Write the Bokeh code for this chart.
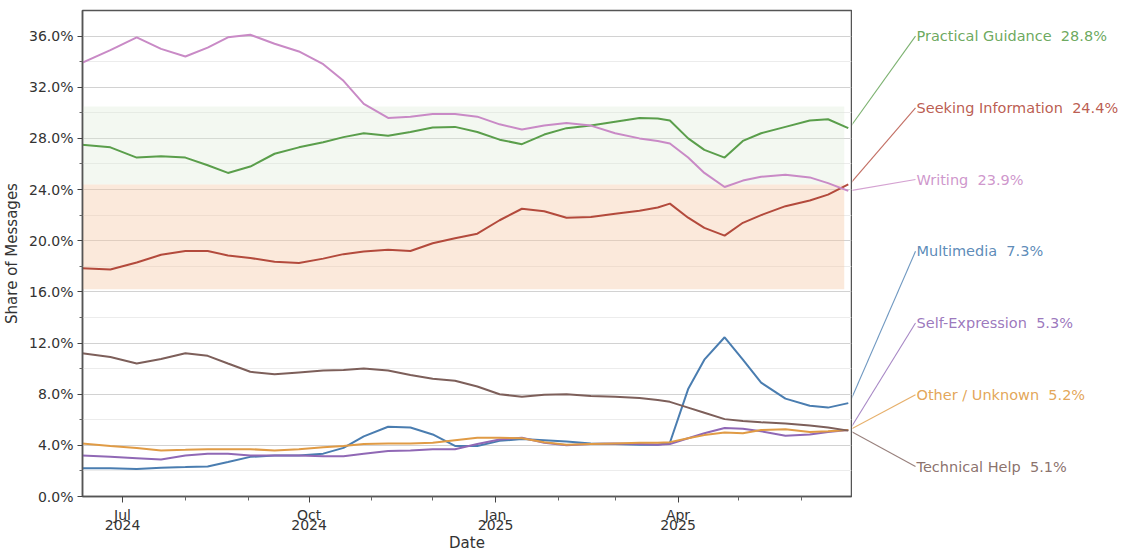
import pandas as pd
from bokeh.plotting import figure
from bokeh.layouts import row
from bokeh.models import (FixedTicker, Range1d, CustomJSTickFormatter, ColumnDataSource,
                          DatetimeAxis)
from bokeh.embed import file_html
from bokeh.resources import INLINE
from bokeh.core.properties import value

# ---------------- data ----------------
dates = ["2024-06-11", "2024-06-25", "2024-07-08", "2024-07-20", "2024-08-01", "2024-08-12",
         "2024-08-22", "2024-09-02", "2024-09-14", "2024-09-26", "2024-10-08", "2024-10-18",
         "2024-10-28", "2024-11-09", "2024-11-20", "2024-12-01", "2024-12-12", "2024-12-23",
         "2025-01-03", "2025-01-14", "2025-01-25", "2025-02-05", "2025-02-17", "2025-03-01",
         "2025-03-13", "2025-03-22", "2025-03-28", "2025-04-06", "2025-04-14", "2025-04-24",
         "2025-05-03", "2025-05-12", "2025-05-24", "2025-06-05", "2025-06-14", "2025-06-24"]

practical_guidance = [27.5, 27.3, 26.5, 26.6, 26.5, 25.9, 25.3, 25.8, 26.8, 27.3, 27.7, 28.1,
                      28.4, 28.2, 28.5, 28.85, 28.9, 28.5, 27.9, 27.55, 28.3, 28.8, 29.0, 29.3,
                      29.6, 29.55, 29.4, 28.0, 27.1, 26.5, 27.8, 28.4, 28.9, 29.4, 29.5, 28.8]
seeking_information = [17.85, 17.75, 18.3, 18.9, 19.2, 19.2, 18.85, 18.65, 18.35, 18.25, 18.6, 18.95,
                       19.15, 19.3, 19.2, 19.8, 20.2, 20.55, 21.6, 22.5, 22.3, 21.8, 21.85, 22.1,
                       22.35, 22.6, 22.9, 21.8, 21.0, 20.4, 21.4, 22.0, 22.7, 23.15, 23.6, 24.4]
writing = [33.9, 34.9, 35.9, 35.0, 34.4, 35.1, 35.9, 36.1, 35.4, 34.8, 33.8, 32.5,
           30.7, 29.6, 29.7, 29.9, 29.9, 29.7, 29.1, 28.7, 29.0, 29.2, 29.0, 28.4,
           28.0, 27.8, 27.6, 26.5, 25.3, 24.2, 24.7, 25.0, 25.15, 24.95, 24.5, 23.9]
multimedia = [2.2, 2.2, 2.15, 2.25, 2.3, 2.35, 2.7, 3.1, 3.2, 3.2, 3.35, 3.8,
              4.7, 5.45, 5.4, 4.85, 3.95, 3.95, 4.35, 4.5, 4.4, 4.3, 4.15, 4.1,
              4.05, 4.05, 4.2, 8.4, 10.7, 12.45, 10.7, 8.9, 7.65, 7.1, 6.95, 7.3]
self_expression = [3.2, 3.1, 3.0, 2.9, 3.2, 3.35, 3.35, 3.2, 3.2, 3.2, 3.15, 3.15,
                   3.35, 3.55, 3.6, 3.7, 3.7, 4.1, 4.45, 4.6, 4.2, 4.0, 4.1, 4.15,
                   4.1, 4.05, 4.1, 4.55, 4.95, 5.35, 5.3, 5.1, 4.75, 4.85, 5.05, 5.2]
other_unknown = [4.15, 3.95, 3.8, 3.6, 3.65, 3.7, 3.7, 3.7, 3.6, 3.7, 3.85, 3.95,
                 4.1, 4.15, 4.15, 4.2, 4.4, 4.6, 4.6, 4.55, 4.25, 4.05, 4.1, 4.15,
                 4.2, 4.2, 4.25, 4.55, 4.8, 5.0, 4.95, 5.2, 5.25, 5.05, 5.1, 5.2]
technical_help = [11.2, 10.9, 10.4, 10.75, 11.2, 11.0, 10.4, 9.75, 9.55, 9.7, 9.85, 9.9,
                  10.0, 9.85, 9.5, 9.2, 9.05, 8.6, 8.0, 7.8, 7.95, 8.0, 7.85, 7.8,
                  7.7, 7.55, 7.4, 6.95, 6.55, 6.05, 5.9, 5.8, 5.7, 5.55, 5.4, 5.15]

series_names = ["Practical Guidance", "Seeking Information", "Writing", "Multimedia",
                "Self-Expression", "Other / Unknown", "Technical Help"]
series_values = [practical_guidance, seeking_information, writing, multimedia,
                 self_expression, other_unknown, technical_help]
label_pct = [28.8, 24.4, 23.9, 7.3, 5.3, 5.2, 5.1]
colors = ["#5a9e4b", "#b34a3c", "#c98ac6", "#4a7db0", "#9068b5", "#e09b45", "#7d5f5a"]

band_green = (24.4, 30.5)
band_orange = (16.2, 24.4)
band_dates = ("2024-06-11", "2025-06-22")

y_ticks = list(range(0, 37, 4))
y_minor = list(range(2, 38, 4))
x_major = ["2024-07-01", "2024-10-01", "2025-01-01", "2025-04-01"]
x_minor = ["2024-08-01", "2024-09-01", "2024-11-01", "2024-12-01", "2025-02-01",
           "2025-03-01", "2025-05-01", "2025-06-01"]

# ---------------- layout ----------------
FONT = "DejaVu Sans"
H = 554
TOP = 10
BOTTOM = 58
TICK_FS = "14px"
AXIS_FS = "15px"

def ms(d):
    return pd.Timestamp(d).value / 1e6

MONTH_JS = """
const m = ['Jan','Feb','Mar','Apr','May','Jun','Jul','Aug','Sep','Oct','Nov','Dec'];
return m[new Date(tick).getUTCMonth()];
"""
YEAR_JS = "return String(new Date(tick).getUTCFullYear());"

x = pd.to_datetime(dates)

p = figure(width=852, height=H, output_backend="svg", toolbar_location=None,
           x_axis_type=None,
           x_range=Range1d(pd.Timestamp("2024-06-11 06:00"), pd.Timestamp("2025-06-25 14:00")),
           y_range=Range1d(0, 38),
           min_border_left=81, min_border_right=1, min_border_top=TOP, min_border_bottom=BOTTOM)
p.outline_line_color = "#555555"
p.outline_line_width = 1.5
p.background_fill_color = "white"
p.border_fill_color = "white"

# bands
p.quad(left=[pd.Timestamp(band_dates[0])], right=[pd.Timestamp(band_dates[1])],
       bottom=[band_green[0]], top=[band_green[1]],
       fill_color="#deebd7", fill_alpha=0.35, line_color=None)
p.quad(left=[pd.Timestamp(band_dates[0])], right=[pd.Timestamp(band_dates[1])],
       bottom=[band_orange[0]], top=[band_orange[1]],
       fill_color="#f5c9a6", fill_alpha=0.4, line_color=None)

for name, vals, c in zip(series_names, series_values, colors):
    p.line(x, vals, line_color=c, line_width=2)

# y axis
p.yaxis.ticker = FixedTicker(ticks=y_ticks, minor_ticks=y_minor)
p.ygrid.ticker = FixedTicker(ticks=y_ticks, minor_ticks=y_minor)
p.ygrid.grid_line_color = "#d2d2d2"
p.ygrid.grid_line_width = 1.2
p.ygrid.minor_grid_line_color = "#ececec"
p.yaxis.formatter = CustomJSTickFormatter(code="return tick.toFixed(1) + '%';")
p.yaxis.axis_label = "Share of Messages"
ya = p.yaxis[0]
ya.axis_line_color = "#555555"
ya.axis_line_width = 1.5
ya.major_tick_line_color = "#444444"
ya.minor_tick_line_color = "#666666"
ya.major_tick_out = 5
ya.major_tick_in = 0
ya.minor_tick_out = 3
ya.minor_tick_in = 0
ya.major_label_text_font = FONT
ya.major_label_text_font_size = TICK_FS
ya.major_label_text_color = "#333333"
ya.axis_label_text_font = FONT
ya.axis_label_text_font_size = AXIS_FS
ya.axis_label_text_font_style = "normal"
ya.axis_label_text_color = "#333333"
ya.major_label_standoff = 4
ya.axis_label_standoff = 5


def add_x_axes(fig, visible=True):
    """Month labels on one axis, year labels on a second axis just below."""
    a1 = DatetimeAxis(ticker=FixedTicker(ticks=[ms(d) for d in x_major],
                                         minor_ticks=[ms(d) for d in x_minor]),
                      formatter=CustomJSTickFormatter(code=MONTH_JS))
    a2 = DatetimeAxis(ticker=FixedTicker(ticks=[ms(d) for d in x_major]),
                      formatter=CustomJSTickFormatter(code=YEAR_JS),
                      axis_label="Date")
    for a in (a1, a2):
        a.major_label_text_font = FONT
        a.major_label_text_font_size = TICK_FS
        a.major_label_text_color = "#333333"
        a.axis_label_text_font = FONT
        a.axis_label_text_font_size = AXIS_FS
        a.axis_label_text_font_style = "normal"
        a.axis_label_text_color = "#333333"
        a.major_tick_in = 0
        a.minor_tick_in = 0
    a1.axis_line_color = "#555555"
    a1.axis_line_width = 1.5
    a1.major_tick_line_color = "#444444"
    a1.minor_tick_line_color = "#666666"
    a1.major_tick_out = 6
    a1.minor_tick_out = 4
    a1.major_label_standoff = 4
    a2.axis_line_color = None
    a2.major_tick_line_color = None
    a2.minor_tick_line_color = None
    a2.major_tick_out = 0
    a2.minor_tick_out = 0
    a2.major_label_standoff = -6
    a2.axis_label_standoff = 1
    if not visible:
        for a in (a1, a2):
            a.axis_line_color = None
            a.major_tick_line_color = None
            a.minor_tick_line_color = None
            a.major_label_text_alpha = 0
            a.axis_label_text_alpha = 0
    fig.add_layout(a1, "below")
    fig.add_layout(a2, "below")


add_x_axes(p)

# ---------------- right-hand label panel ----------------
p2 = figure(width=268, height=H, output_backend="svg", toolbar_location=None,
            x_axis_type=None, y_axis_type=None,
            x_range=Range1d(0, 268), y_range=p.y_range,
            min_border_left=0, min_border_right=0, min_border_top=TOP, min_border_bottom=BOTTOM)
p2.outline_line_color = None
p2.grid.visible = False
add_x_axes(p2, visible=False)

label_top = 36.0
label_step = 5.61
label_y = [label_top - i * label_step for i in range(len(series_names))]
end_vals = [v[-1] for v in series_values]
labels = [f"{n} \u00a0{v:.1f}%" for n, v in zip(series_names, label_pct)]

src = ColumnDataSource(dict(y0=end_vals, y1=label_y, text=labels, color=colors))
p2.segment(x0=-3, y0="y0", x1=63, y1="y1", line_color="color", line_width=1.1,
           line_alpha=0.8, source=src)
p2.text(x=64, y="y1", text="text", text_color="color", text_alpha=0.9,
        text_font=value(FONT), text_font_size="14.5px",
        text_baseline="middle", text_align="left", source=src)

layout = row(p, p2, spacing=0)
open("out.html", "w").write(file_html(layout, INLINE))
